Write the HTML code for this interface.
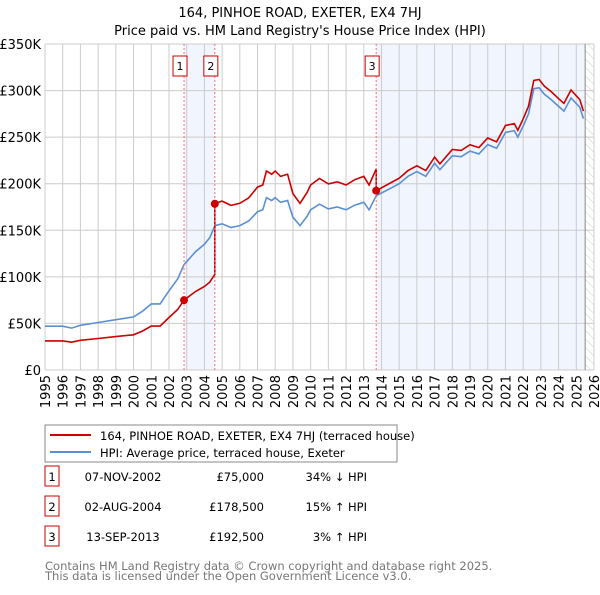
<!DOCTYPE html>
<html><head><meta charset="utf-8"><style>
body{margin:0;background:#fff;font-family:"Liberation Sans","DejaVu Sans",sans-serif;}
svg text{font-family:"DejaVu Sans","Liberation Sans",sans-serif;}
</style></head><body>
<svg id="c" width="600" height="590" xmlns="http://www.w3.org/2000/svg">
<defs><pattern id="hatch" width="6" height="6" patternUnits="userSpaceOnUse" patternTransform="rotate(-45)"><line x1="0" y1="0" x2="0" y2="6" stroke="#ccc" stroke-width="1"/></pattern></defs>
<text x="300" y="17" text-anchor="middle" font-size="13">164, PINHOE ROAD, EXETER, EX4 7HJ</text>
<text x="300" y="35" text-anchor="middle" font-size="13">Price paid vs. HM Land Registry's House Price Index (HPI)</text>
<g id="plot"></g>
<rect x="45" y="425" width="352" height="37" fill="#fff" stroke="#888"/>
<line x1="50" y1="435" x2="91" y2="435" stroke="#cc0000" stroke-width="2"/>
<text x="100" y="440" font-size="11.5">164, PINHOE ROAD, EXETER, EX4 7HJ (terraced house)</text>
<line x1="50" y1="452" x2="91" y2="452" stroke="#5b8fd4" stroke-width="2"/>
<text x="100" y="457" font-size="11.5">HPI: Average price, terraced house, Exeter</text>
<g font-size="11.5" id="tbl"></g>
<text x="45" y="570" font-size="11.5" fill="#777">Contains HM Land Registry data © Crown copyright and database right 2025.</text>
<text x="45" y="580" font-size="11.5" fill="#777">This data is licensed under the Open Government Licence v3.0.</text>
</svg>
<script>
const hpiYears=[1995,1996,1996.5,1997,1998,1999,2000,2000.5,2001,2001.5,2002,2002.5,2002.85,2003.5,2004,2004.3,2004.6,2005,2005.5,2006,2006.5,2007,2007.3,2007.5,2007.8,2008,2008.3,2008.7,2009,2009.4,2009.8,2010,2010.5,2011,2011.5,2012,2012.5,2013,2013.3,2013.7,2014,2014.5,2015,2015.5,2016,2016.5,2017,2017.3,2018,2018.5,2019,2019.5,2020,2020.5,2021,2021.5,2021.7,2022,2022.3,2022.6,2022.9,2023.2,2023.6,2024,2024.3,2024.7,2025,2025.2,2025.4];
const hpiValues=[47,47,45,48,51,54,57,63,71,71,85,98,113,127,135,142,155,157,153,155,160,170,172,185,182,185,180,182,164,155,165,172,178,173,175,172,177,180,172,187,190,195,200,208,213,208,222,215,230,229,235,232,242,238,255,257,250,262,275,302,303,296,290,283,278,292,286,282,270];
const saleYears=[2002.85,2004.59,2013.7];
const salePrices=[75,178.5,192.5];
const saleLabels=["1","2","3"];
const saleDates=["07-NOV-2002","02-AUG-2004","13-SEP-2013"];
const salePriceText=["£75,000","£178,500","£192,500"];
const saleHpiText=["34% ↓ HPI","15% ↑ HPI","3% ↑ HPI"];
const yTicks=[0,50,100,150,200,250,300,350];
const yTickLabels=["£0","£50K","£100K","£150K","£200K","£250K","£300K","£350K"];
const xTicks=[1995,1996,1997,1998,1999,2000,2001,2002,2003,2004,2005,2006,2007,2008,2009,2010,2011,2012,2013,2014,2015,2016,2017,2018,2019,2020,2021,2022,2023,2024,2025,2026];

const X0=45,X1=594,Y0=370,Y1=44;
const xs=y=>X0+(y-1995)/(2026-1995)*(X1-X0);
const ys=v=>Y0-v/350*(Y0-Y1);
const NS="http://www.w3.org/2000/svg";
const g=document.getElementById('plot');
function mk(t,a,p){const e=document.createElementNS(NS,t);for(const k in a)e.setAttribute(k,a[k]);(p||g).appendChild(e);return e;}
function hpiAt(y){for(let i=1;i<hpiYears.length;i++){if(y<=hpiYears[i]){const t=(y-hpiYears[i-1])/(hpiYears[i]-hpiYears[i-1]);return hpiValues[i-1]+t*(hpiValues[i]-hpiValues[i-1]);}}return hpiValues[hpiValues.length-1];}
let e;
e=mk('rect',{x:X0,y:Y1,width:X1-X0,height:Y0-Y1,fill:'#fff'});

e=mk('rect',{x:xs(saleYears[0]),y:Y1,width:xs(saleYears[1])-xs(saleYears[0]),height:Y0-Y1,fill:'#eef3fc',opacity:0.8});

e=mk('rect',{x:xs(saleYears[2]),y:Y1,width:xs(2025.5)-xs(saleYears[2]),height:Y0-Y1,fill:'#eef3fc',opacity:0.8});

e=mk('rect',{x:xs(2025.5),y:Y1,width:X1-xs(2025.5),height:Y0-Y1,fill:'url(#hatch)'});

yTicks.forEach((v,i)=>{
  e=mk('line',{x1:X0,x2:X1,y1:ys(v),y2:ys(v),stroke:'#ccc','stroke-width':1});
  
  e=mk('text',{x:X0-4,y:ys(v)+5,'text-anchor':'end','font-size':13});e.textContent=yTickLabels[i];
  
});
xTicks.forEach(v=>{
  e=mk('line',{x1:xs(v),x2:xs(v),y1:Y1,y2:Y0,stroke:'#ccc','stroke-width':1});
  
  e=mk('text',{x:0,y:0,'text-anchor':'end','font-size':13,transform:`translate(${xs(v)+5},${Y0+5}) rotate(-90)`});e.textContent=v;
  
});
e=mk('line',{x1:xs(2025.5),x2:xs(2025.5),y1:Y1,y2:Y0,stroke:'#888','stroke-width':1});

let d=hpiYears.map((y,i)=>(i?'L':'M')+xs(y).toFixed(1)+','+ys(hpiValues[i]).toFixed(1)).join('');
e=mk('path',{d:d,fill:'none',stroke:'#5b8fd4','stroke-width':1.6});

function factor(y){let k=0;for(let i=0;i<saleYears.length;i++)if(y>=saleYears[i])k=i;return salePrices[k]/hpiAt(saleYears[k]);}
let pts=[];
hpiYears.forEach((y,i)=>{
  saleYears.forEach((s,j)=>{if(j>0&&s>(i?hpiYears[i-1]:0)&&s<=y){pts.push([s,hpiAt(s)*salePrices[j-1]/hpiAt(saleYears[j-1])]);pts.push([s,salePrices[j]]);}});
  pts.push([y,hpiValues[i]*factor(y)]);
});
d=pts.map((p,i)=>(i?'L':'M')+xs(p[0]).toFixed(1)+','+ys(p[1]).toFixed(1)).join('');
e=mk('path',{d:d,fill:'none',stroke:'#cc0000','stroke-width':1.6});

saleYears.forEach((s,i)=>{
  e=mk('line',{x1:xs(s),x2:xs(s),y1:Y1,y2:Y0,stroke:'#f07070','stroke-width':1,'stroke-dasharray':'2,2'});
  
  e=mk('circle',{cx:xs(s),cy:ys(salePrices[i]),r:4,fill:'#cc0000'});
  
  const bx=xs(s)-4;
  e=mk('rect',{x:bx-7,y:56,width:14,height:20,fill:'#fff',stroke:'#cc0000'});
  
  e=mk('text',{x:bx,y:70,'text-anchor':'middle','font-size':11});e.textContent=saleLabels[i];
  
});
const t=document.getElementById('tbl');
saleYears.forEach((s,i)=>{
  const y=483+i*30;
  e=mk('rect',{x:45,y:y-17,width:14,height:20,fill:'#fff',stroke:'#cc0000'},t);
  
  e=mk('text',{x:52,y:y-2,'text-anchor':'middle'},t);e.textContent=saleLabels[i];
  
  e=mk('text',{x:123,y:y-2,'text-anchor':'middle'},t);e.textContent=saleDates[i];
  
  e=mk('text',{x:264,y:y-2,'text-anchor':'end'},t);e.textContent=salePriceText[i];
  
  e=mk('text',{x:367,y:y-2,'text-anchor':'end'},t);e.textContent=saleHpiText[i];
  
});
</script>
</body></html>
